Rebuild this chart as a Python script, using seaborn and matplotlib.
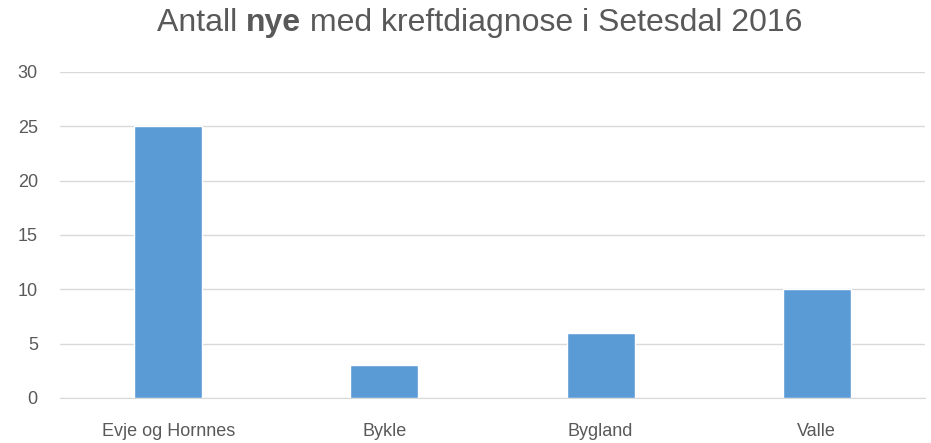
import matplotlib
matplotlib.use("Agg")
import matplotlib.pyplot as plt
import seaborn as sns
import pandas as pd

# Data
kommuner = ["Evje og Hornnes", "Bykle", "Bygland", "Valle"]
antall_nye = [25, 3, 6, 10]
y_ticks = [0, 5, 10, 15, 20, 25, 30]

sns.set_style("white")
plt.rcParams['font.family'] = ['Liberation Sans', 'DejaVu Sans']

df = pd.DataFrame({"kommune": kommuner, "antall": antall_nye})

fig = plt.figure(figsize=(9.31, 4.43), dpi=100)
ax = fig.add_axes([0.0645, 0.1016, 0.929, 0.7359])

sns.barplot(data=df, x="kommune", y="antall", color="#5B9BD5", width=0.315,
            saturation=1, ax=ax, zorder=3)

ax.set_ylim(0, 30)
ax.set_yticks(y_ticks)
ax.set_xlim(-0.5, 3.5)
ax.yaxis.grid(True, color="#D9D9D9", linewidth=1, zorder=0)
ax.set_axisbelow(True)
for side in ["top", "right", "left"]:
    ax.spines[side].set_visible(False)
ax.spines["bottom"].set_color("#D9D9D9")
ax.tick_params(axis="both", length=0, labelsize=13, colors="#595959")
ax.tick_params(axis="y", pad=16)
ax.tick_params(axis="x", pad=18)
ax.set_xlabel("")
ax.set_ylabel("")

# title with bold "nye"
parts = [("Antall ", "normal"), ("nye", "bold"), (" med kreftdiagnose i Setesdal 2016", "normal")]
fig.canvas.draw()
renderer = fig.canvas.get_renderer()
texts = []
for s, w in parts:
    t = fig.text(0, 0.948, s, fontsize=23, fontweight=w, color="#595959",
                 ha="left", va="center")
    texts.append(t)
widths = [t.get_window_extent(renderer).width / fig.bbox.width for t in texts]
x = 0.5 * (138 + 822) / 931 - sum(widths) / 2
for t, wd in zip(texts, widths):
    t.set_x(x)
    x += wd

fig.savefig("out.png", dpi=100)
